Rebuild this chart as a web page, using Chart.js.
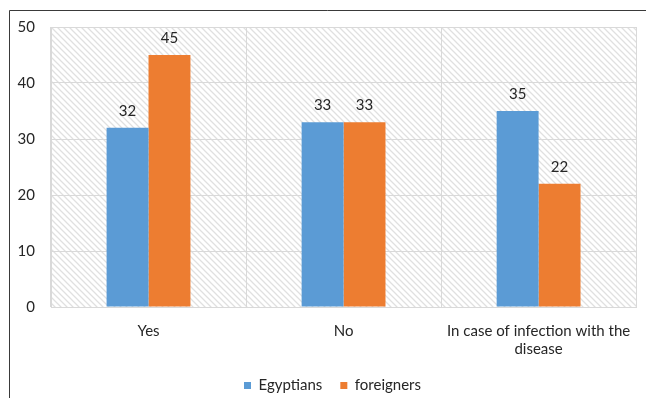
<!DOCTYPE html>
<html>
<head>
<meta charset="utf-8">
<script src="https://cdn.jsdelivr.net/npm/chart.js@4"></script>
<style>
  html, body { margin: 0; padding: 0; background: #fff; }
  #wrap { width: 646px; height: 398px; }
</style>
</head>
<body>
<div id="wrap"><canvas id="barchart"></canvas></div>
<script>
"use strict";

// Chart values
const categories = ['Yes', 'No', ['In case of infection with the', 'disease']];
const egyptians = [32, 33, 35];
const foreigners = [45, 33, 22];
const yTicks = [0, 10, 20, 30, 40, 50];

const FONT = "Lato, 'Open Sans', sans-serif";
const TEXT = '#262626';

// Diagonal hatch used for the plot background
function hatchPattern(ctx) {
    const c = document.createElement('canvas');
    const s = 6;
    c.width = s; c.height = s;
    const p = c.getContext('2d');
    p.strokeStyle = '#e0e0e0';
    p.lineWidth = 1.3;
    p.beginPath();
    p.moveTo(0, 0); p.lineTo(s, s);
    p.moveTo(-s, 0); p.lineTo(s, 2 * s);
    p.moveTo(0, -s); p.lineTo(2 * s, s);
    p.stroke();
    return ctx.createPattern(c, 'repeat');
}

const background = {
    id: 'background',
    afterLayout(chart) {
        // legend sits a little right of centre in the original
        chart.legend.left += 12;
        chart.legend.right += 12;
    },
    beforeDraw(chart) {
        const { ctx, chartArea: a } = chart;
        ctx.save();
        ctx.fillStyle = hatchPattern(ctx);
        ctx.fillRect(a.left, a.top, a.right - a.left, a.bottom - a.top);
        // outer frame lines (left and top)
        ctx.strokeStyle = '#3a3a3a';
        ctx.lineWidth = 1;
        ctx.beginPath();
        ctx.moveTo(9.5, chart.height);
        ctx.lineTo(9.5, 10.5);
        ctx.lineTo(chart.width, 10.5);
        ctx.stroke();
        ctx.restore();
    }
};

const valueLabels = {
    id: 'valueLabels',
    afterDatasetsDraw(chart) {
        const { ctx } = chart;
        ctx.save();
        ctx.font = '15px ' + FONT;
        ctx.fillStyle = TEXT;
        ctx.textAlign = 'center';
        ctx.textBaseline = 'middle';
        chart.data.datasets.forEach((ds, i) => {
            chart.getDatasetMeta(i).data.forEach((bar, j) => {
                ctx.fillText(ds.data[j], bar.x, bar.y - 17);
            });
        });
        ctx.restore();
    }
};

new Chart(document.getElementById('barchart'), {
    type: 'bar',
    data: {
        labels: categories,
        datasets: [
            { label: 'Egyptians', data: egyptians, backgroundColor: '#5b9bd5' },
            { label: 'foreigners', data: foreigners, backgroundColor: '#ed7d31' }
        ]
    },
    options: {
        responsive: true,
        maintainAspectRatio: false,
        animation: false,
        categoryPercentage: 0.43,
        barPercentage: 1,
        layout: { padding: { left: 0, right: 5, top: 27, bottom: 0 } },
        scales: {
            x: {
                grid: { color: '#d9d9d9', drawTicks: false },
                border: { color: '#d9d9d9' },
                ticks: { color: TEXT, font: { family: FONT, size: 15 }, padding: 15, maxRotation: 0 },
                afterFit(scale) { scale.height = 53; }
            },
            y: {
                min: 0,
                max: 50,
                afterBuildTicks(scale) { scale.ticks = yTicks.map(v => ({ value: v })); },
                grid: { color: '#d9d9d9', drawTicks: false },
                border: { color: '#d9d9d9' },
                ticks: { color: TEXT, font: { family: FONT, size: 15 }, padding: 16 },
                afterFit(scale) { scale.width = 51; }
            }
        },
        plugins: {
            legend: {
                position: 'bottom',
                maxHeight: 38,
                labels: {
                    color: TEXT,
                    font: { family: FONT, size: 15 },
                    boxWidth: 7,
                    boxHeight: 7,
                    padding: 18
                }
            },
            tooltip: { enabled: false }
        }
    },
    plugins: [background, valueLabels]
});
</script>
</body>
</html>
